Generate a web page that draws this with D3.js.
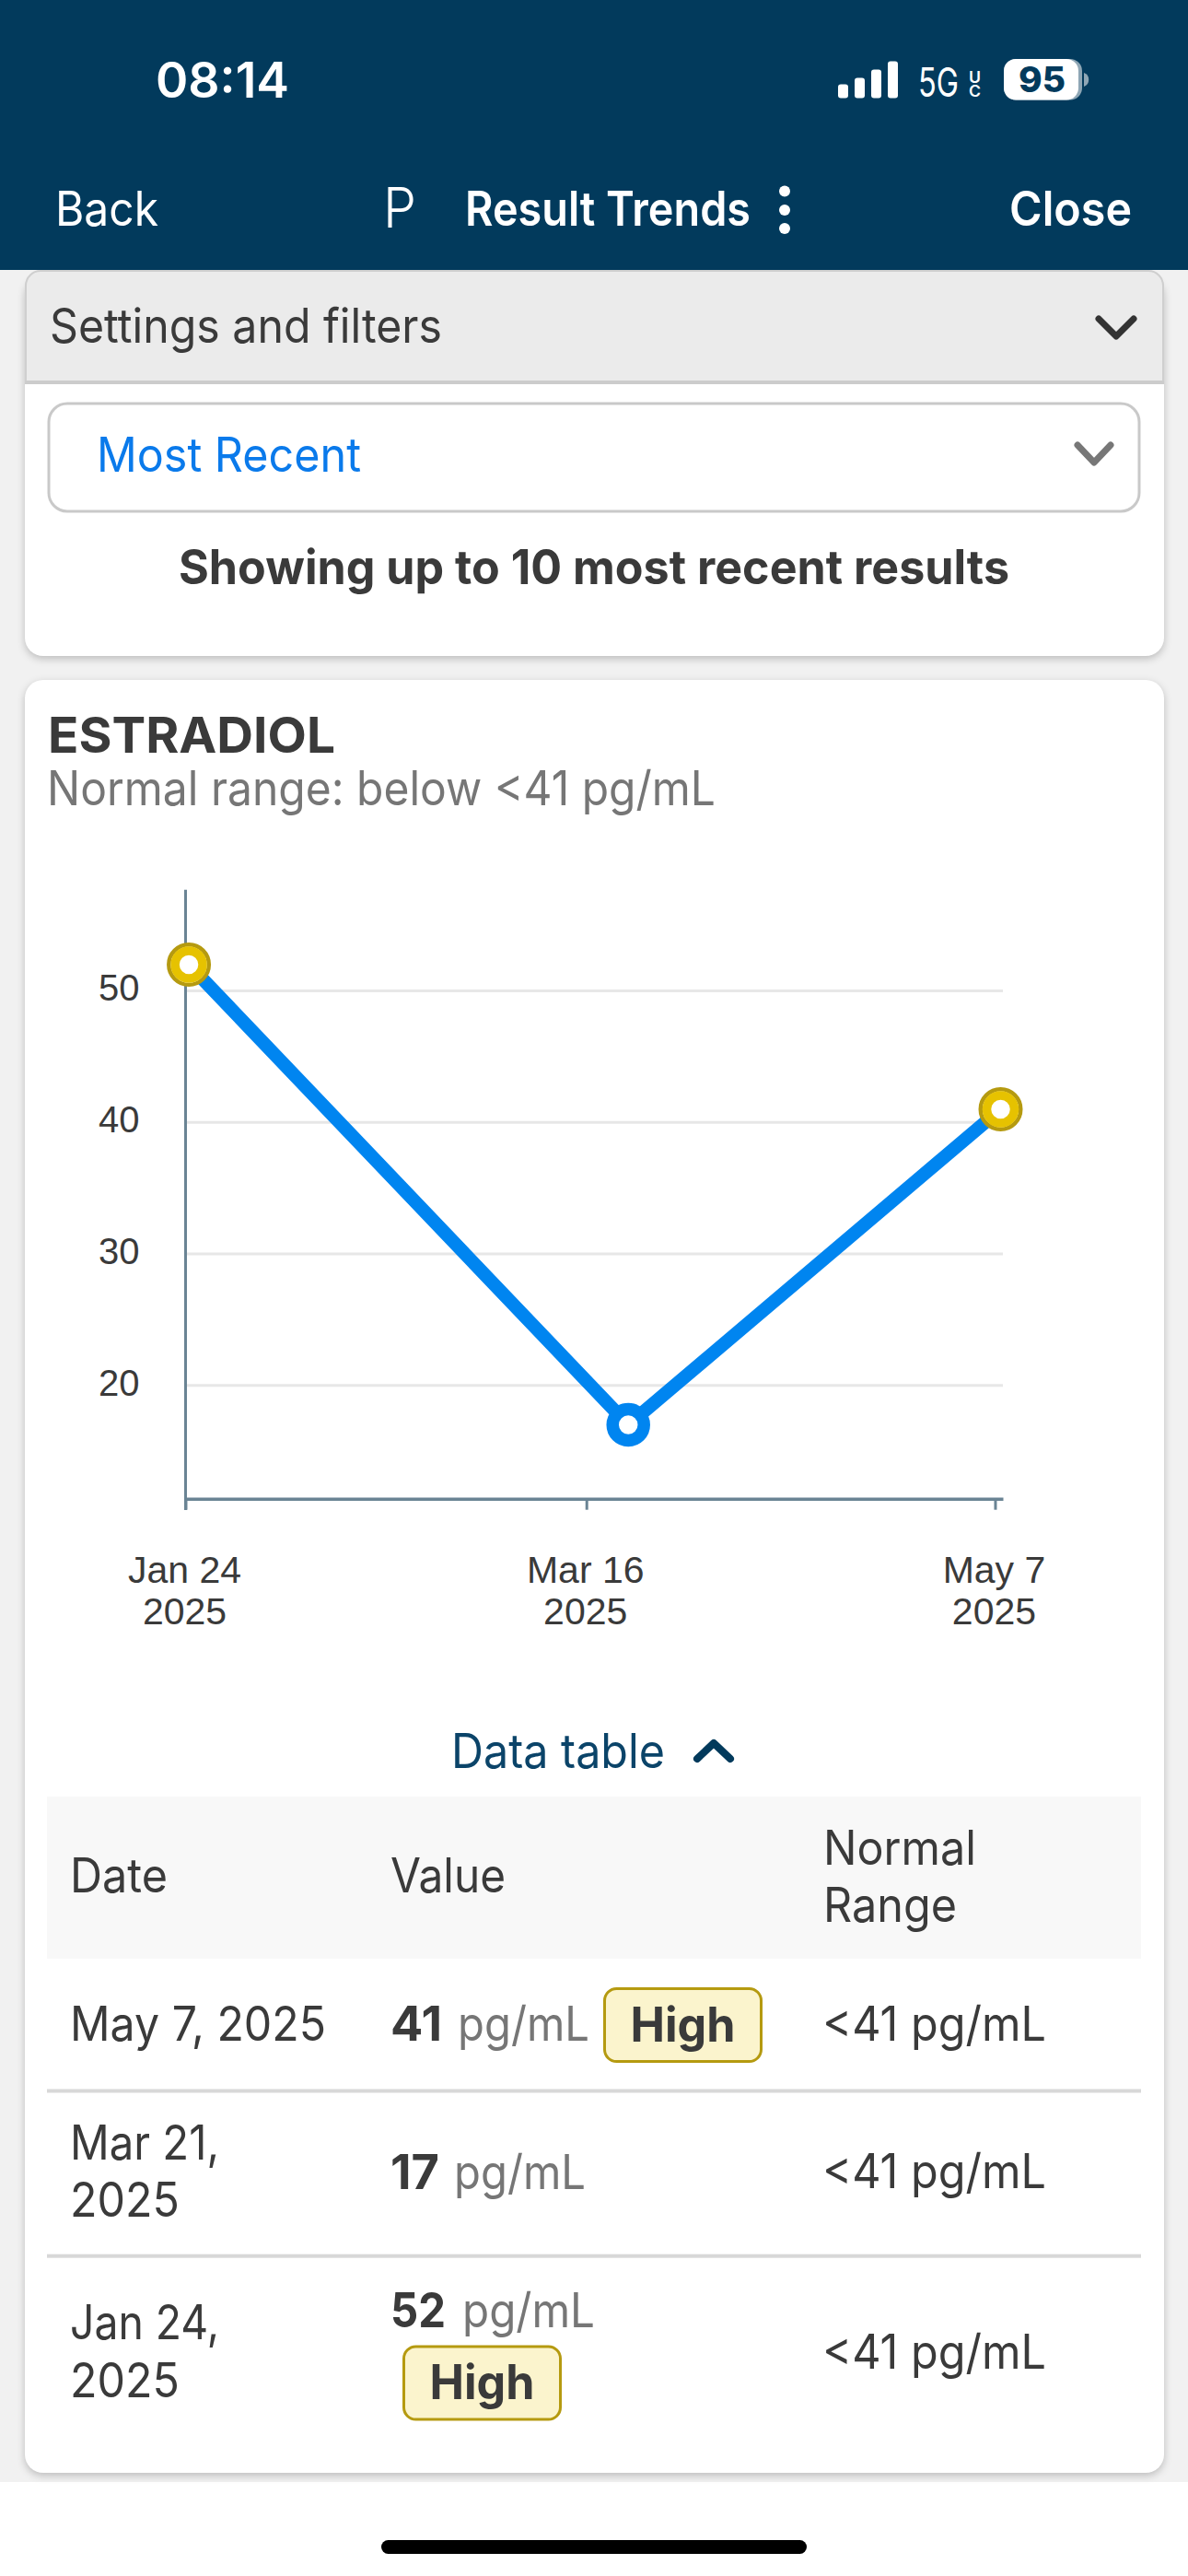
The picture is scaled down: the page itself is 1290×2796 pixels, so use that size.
<!DOCTYPE html>
<html>
<head>
<meta charset="utf-8">
<script src="https://cdn.jsdelivr.net/npm/d3@7/dist/d3.min.js"></script>
<style>
  html, body { margin: 0; padding: 0; background: #fff; }
  svg { display: block; }
  text { font-family: Inter, Roboto, sans-serif; }
  text.axis-label, .axis-label text { font-family: "Liberation Sans", Arial, sans-serif; }
</style>
</head>
<body>
<svg id="screen" width="1290" height="2796"></svg>
<script>
// Estradiol results, oldest first. Times of day place each point inside its date.
const resultTimes = ["2025-01-24T10:00Z", "2025-03-21T08:00Z", "2025-05-07T17:00Z"];
const resultValues = [52, 17, 41];
const resultUnit = "pg/mL";
const upperLimit = 41;

// Axis labelling
const xTickDates = ["2025-01-24", "2025-03-16", "2025-05-07"];
const xTickMonths = ["Jan 24", "Mar 16", "May 7"];
const xTickYears = ["2025", "2025", "2025"];
const yTicks = [20, 30, 40, 50];

// Table rows, newest first
const rowDateLines = [["May 7, 2025"], ["Mar 21,", "2025"], ["Jan 24,", "2025"]];
const rowValues = [41, 17, 52];
const rowFlags = ["High", null, "High"];
const rangeText = "<41 pg/mL";

// Status bar
const signalHeights = [15, 22, 31, 40];

const svg = d3.select("#screen");
const NAVY = "#023A5C", INK = "#3A3A3A", GREY = "#767676", BLUE = "#0085F0";
const GOLD = "#E6C200", GOLD_DARK = "#B59A10";
const BODY = 52;

function label(text, x, y, o = {}) {
  const t = svg.append("text")
    .attr("x", x).attr("y", y)
    .attr("font-size", o.size || BODY)
    .attr("font-weight", o.weight || 400)
    .attr("fill", o.fill || INK)
    .attr("text-anchor", o.anchor || "start")
    .text(text);
  if (o.w) t.attr("textLength", o.w).attr("lengthAdjust", "spacingAndGlyphs");
  return t;
}
function chevron(x0, x1, yEdge, yTip, color, width) {
  svg.append("path")
    .attr("d", d3.line()([[x0, yEdge], [(x0 + x1) / 2, yTip], [x1, yEdge]]))
    .attr("fill", "none").attr("stroke", color)
    .attr("stroke-width", width).attr("stroke-linecap", "round").attr("stroke-linejoin", "round");
}

// Page background and the white strip beneath the scrolling content
svg.append("rect").attr("width", 1290).attr("height", 2796).attr("fill", "#fff");
svg.append("rect").attr("y", 293).attr("width", 1290).attr("height", 2401).attr("fill", "#F1F1F1");

// Filter card
svg.append("rect").attr("x", 27).attr("y", 300).attr("width", 1237).attr("height", 412).attr("rx", 20)
  .attr("fill", "#fff").style("filter", "drop-shadow(0 3px 4px rgba(0,0,0,.22))");
svg.append("path")
  .attr("d", "M28 415 V310 a16 16 0 0 1 16 -16 H1247 a16 16 0 0 1 16 16 V415 Z")
  .attr("fill", "#EBEBEB").attr("stroke", "#CFCFCF").attr("stroke-width", 2);
svg.append("rect").attr("x", 27).attr("y", 413).attr("width", 1237).attr("height", 4).attr("fill", "#CCCCCC");
label("Settings and filters", 54, 372, { w: 426 });
chevron(1193, 1231, 346, 365, "#333", 7);
svg.append("rect").attr("x", 53).attr("y", 438).attr("width", 1184).attr("height", 117).attr("rx", 20)
  .attr("fill", "#fff").attr("stroke", "#C9C9C9").attr("stroke-width", 3);
label("Most Recent", 105, 512, { w: 287, fill: "#0A7AEB" });
chevron(1170, 1206, 483, 502, "#777", 7);
label("Showing up to 10 most recent results", 194, 634, { w: 902, weight: 700 });

// Results card
svg.append("rect").attr("x", 27).attr("y", 738).attr("width", 1237).attr("height", 1946).attr("rx", 20)
  .attr("fill", "#fff").style("filter", "drop-shadow(0 3px 4px rgba(0,0,0,.22))");
label("ESTRADIOL", 52, 817, { w: 312, size: 54, weight: 700 });
label(`Normal range: below <${upperLimit} ${resultUnit}`, 51, 874, { w: 726, fill: GREY });

// Chart scales
const x = d3.scaleUtc()
  .domain([new Date("2025-01-24T00:00Z"), new Date("2025-05-08T00:00Z")])
  .range([201.5, 1089]);
const y = d3.scaleLinear().domain([11.38, 57.7]).range([1626.7, 965.7]);
const AXIS_COLOR = "#6A8494";

// Horizontal gridlines with value labels
const yAxis = svg.append("g")
  .attr("class", "axis-label")
  .attr("transform", "translate(201.5,0)")
  .call(d3.axisLeft(y).tickValues(yTicks).tickSize(0).tickPadding(50).tickFormat(d3.format("d")));
yAxis.select(".domain").remove();
yAxis.selectAll("text")
  .attr("font-size", 40).attr("fill", INK)
  .attr("transform", "translate(0,-2.5)");
svg.append("g").selectAll("line").data(yTicks).join("line")
  .attr("x1", 201.5).attr("x2", 1089)
  .attr("y1", d => y(d)).attr("y2", d => y(d))
  .attr("stroke", "#E7E7E7").attr("stroke-width", 3);

// Axis frame
svg.append("line").attr("x1", 201.5).attr("x2", 201.5)
  .attr("y1", y.range()[1]).attr("y2", 1639)
  .attr("stroke", AXIS_COLOR).attr("stroke-width", 3);
const xAxis = svg.append("g")
  .attr("class", "axis-label")
  .attr("transform", `translate(0,${y.range()[0]})`)
  .call(d3.axisBottom(x).tickValues(xTickDates.map(d => new Date(d + "T00:00Z"))).tickSize(12).tickSizeOuter(0).tickFormat(""));
xAxis.select(".domain").attr("stroke", AXIS_COLOR).attr("stroke-width", 3.5);
xAxis.selectAll("line").attr("stroke", AXIS_COLOR).attr("stroke-width", 3);
xAxis.selectAll("text").remove();
xAxis.selectAll("g.tick").each(function (d, i) {
  const g = d3.select(this);
  [xTickMonths[i], xTickYears[i]].forEach((line, j) => {
    g.append("text").attr("x", -1.5).attr("y", 91.5 + j * 45).attr("text-anchor", "middle")
      .attr("font-size", 41).attr("fill", INK).text(line);
  });
});

// Result line and markers; results at or above the limit are flagged in gold
const points = resultValues.map((v, i) => ({ t: new Date(resultTimes[i]), v }));
svg.append("path").datum(points)
  .attr("d", d3.line().x(d => x(d.t)).y(d => y(d.v)))
  .attr("fill", "none").attr("stroke", BLUE).attr("stroke-width", 14.5);
const marks = svg.append("g").selectAll("g").data(points).join("g")
  .attr("transform", d => `translate(${x(d.t)},${y(d.v)})`);
marks.append("circle").attr("r", d => d.v >= upperLimit ? 21.8 : 17)
  .attr("fill", "#fff")
  .attr("stroke", d => d.v >= upperLimit ? GOLD_DARK : BLUE)
  .attr("stroke-width", d => d.v >= upperLimit ? 4.4 : 13.5);
marks.filter(d => d.v >= upperLimit).append("circle").attr("r", 15)
  .attr("fill", "none").attr("stroke", GOLD).attr("stroke-width", 9.5);

// Data table toggle
label("Data table", 490, 1919, { w: 232, fill: "#0B4469" });
chevron(757, 793, 1909, 1892, NAVY, 8);

// Table header
svg.append("rect").attr("x", 51).attr("y", 1950).attr("width", 1188).attr("height", 176).attr("fill", "#F8F8F8");
label("Date", 76, 2054, { w: 106 });
label("Value", 424, 2054, { w: 125 });
label("Normal", 894, 2024, { w: 166 });
label("Range", 894, 2086, { w: 145 });

// Table rows: baselines and badge boxes follow each row's wrapping
const valueWidths = { 41: 56, 17: 53, 52: 60 };
const rowLayout = [
  { dateY: [2215], valueY: 2215, unitX: 497, unitW: 143, rangeY: 2215, badge: [656.5, 2158.5] },
  { dateY: [2343.5, 2406], valueY: 2376, unitX: 493, unitW: 143, rangeY: 2375 },
  { dateY: [2539, 2601.5], valueY: 2526, unitX: 502, unitW: 144, rangeY: 2570.5, badge: [438.5, 2547] }
];
rowValues.forEach((v, i) => {
  const r = rowLayout[i];
  rowDateLines[i].forEach((line, j) =>
    label(line, 76, r.dateY[j], { w: line.length > 8 ? 278 : (line.length > 4 ? 162 : 119) }));
  label(String(v), 424, r.valueY, { size: 52, weight: 700, w: valueWidths[v] });
  label(resultUnit, r.unitX, r.valueY, { w: r.unitW, fill: GREY });
  if (rowFlags[i]) {
    svg.append("rect").attr("x", r.badge[0]).attr("y", r.badge[1]).attr("width", 170).attr("height", 79).attr("rx", 13)
      .attr("fill", "#FBF4CD").attr("stroke", GOLD_DARK).attr("stroke-width", 3);
    label(rowFlags[i], r.badge[0] + 28, r.badge[1] + 57, { weight: 700, w: 114 });
  }
  label(rangeText, 893, r.rangeY, { w: 243 });
});
[2269.5, 2448.7].forEach(yy => svg.append("rect").attr("x", 51).attr("y", yy - 2).attr("width", 1188).attr("height", 4).attr("fill", "#D8D8D8"));

// Top bar
svg.append("rect").attr("width", 1290).attr("height", 293).attr("fill", NAVY);
label("08:14", 169, 106, { fill: "#fff", size: 53, weight: 600, w: 145 });
signalHeights.forEach((h, i) => svg.append("rect")
  .attr("x", 910 + i * 18).attr("y", 106.5 - h).attr("width", 11).attr("height", h).attr("rx", 3).attr("fill", "#fff"));
label("5G", 997, 105, { fill: "#fff", size: 44, weight: 400, w: 44 });
label("U", 1052, 90, { fill: "#fff", size: 17, weight: 600, w: 13 });
label("C", 1052, 105, { fill: "#fff", size: 17, weight: 600, w: 13 });
svg.append("rect").attr("x", 1090).attr("y", 64).attr("width", 85).attr("height", 44.5).attr("rx", 13).attr("fill", "#8EA6B5");
svg.append("rect").attr("x", 1090).attr("y", 64).attr("width", 81).attr("height", 44.5).attr("rx", 13).attr("fill", "#fff");
svg.append("path").attr("d", "M1177 79 a8 8 0 0 1 0 15 Z").attr("fill", "#8EA6B5");
label("95", 1131.5, 100, { fill: NAVY, size: 38, weight: 800, anchor: "middle", w: 51 });

label("Back", 60, 245, { fill: "#fff", w: 112 });
label("P", 416, 247, { fill: "#fff", size: 61, weight: 300, w: 36 });
label("Result Trends", 505, 245, { fill: "#fff", weight: 600, w: 310 });
[207.5, 228, 248].forEach(cy => svg.append("circle").attr("cx", 852).attr("cy", cy).attr("r", 6).attr("fill", "#fff"));
label("Close", 1096, 245, { fill: "#fff", weight: 600, w: 133 });

// Home indicator
svg.append("rect").attr("x", 414).attr("y", 2757).attr("width", 462).attr("height", 15).attr("rx", 7.5).attr("fill", "#000");
</script>
</body>
</html>
